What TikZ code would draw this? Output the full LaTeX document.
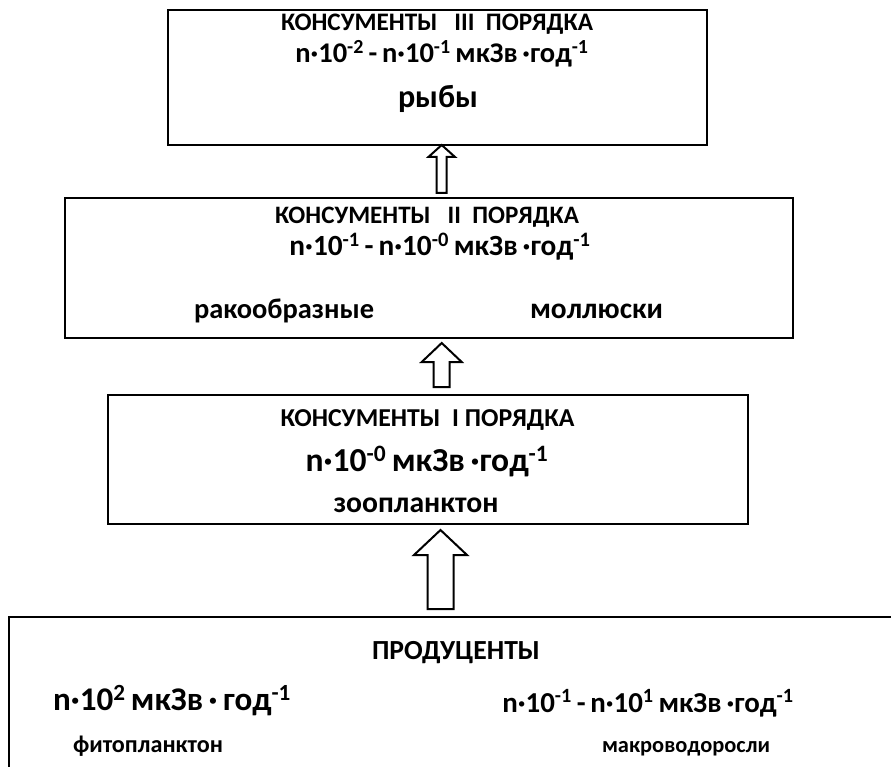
\documentclass[tikz,border=0pt]{standalone}
\usepackage{fontspec}
\setmainfont{Carlito}
\newlength\fwtmp
\newcommand{\sps}[1]{\textsuperscript{#1}}
\newcommand{\fitw}[2]{%
  \settowidth{\fwtmp}{\fontsize{10}{12}\selectfont\bfseries #2}%
  \pgfmathsetmacro\fwsize{10*#1/\fwtmp}%
  \fontsize{\fwsize}{\fwsize}\selectfont\bfseries #2}
\begin{document}
\begin{tikzpicture}[x=1pt,y=1pt,
  box/.style={draw=black,line width=2.4pt,rectangle,inner sep=0pt,fill=white},
  blockarrow/.style={draw=black,line width=2pt,fill=white,line join=miter},
  txt/.style={anchor=base,inner sep=0pt}]
\useasboundingbox (0,0) rectangle (891,-767);
\clip (0,0) rectangle (891,-767);
% boxes
\node[box,minimum width=539pt,minimum height=135pt] (b1) at (437.5,-77.5) {};
\node[box,minimum width=728pt,minimum height=140pt] (b2) at (429,-268) {};
\node[box,minimum width=640pt,minimum height=129pt] (b3) at (428,-459.5) {};
\node[box,minimum width=960pt,minimum height=250pt] (b0) at (489,-742) {};
% arrows
\coordinate (a1) at (441.7,-145);
\draw[blockarrow] (a1) -- ++(13.3,-12) -- ++(-8.3,0) -- ++(0,-36) -- ++(-10,0) -- ++(0,36) -- ++(-8.3,0) -- cycle;
\coordinate (a2) at (441.7,-343);
\draw[blockarrow] (a2) -- ++(20,-19) -- ++(-12,0) -- ++(0,-25) -- ++(-16,0) -- ++(0,25) -- ++(-12,0) -- cycle;
\coordinate (a3) at (440.5,-530);
\draw[blockarrow] (a3) -- ++(26.5,-25) -- ++(-13.5,0) -- ++(0,-54) -- ++(-26,0) -- ++(0,54) -- ++(-13.5,0) -- cycle;
% box 1 texts
\node[txt] (t1) at (437,-31) {\fitw{312}{КОНСУМЕНТЫ~~~III~~ПОРЯДКА}};
\node[txt] (f1) at (442,-63) {\fitw{296}{n·10\sps{-2}\,-\,n·10\sps{-1}\,мкЗв\,·год\sps{-1}}};
\node[txt] (o1) at (438,-108) {\fitw{80}{рыбы}};
% box 2 texts
\node[txt] (t2) at (427,-224) {\fitw{304}{КОНСУМЕНТЫ~~~II~~ПОРЯДКА}};
\node[txt] (f2) at (440,-256) {\fitw{304}{n·10\sps{-1}\,-\,n·10\sps{-0}\,мкЗв\,·год\sps{-1}}};
\node[txt] (o2a) at (284,-318) {\fitw{180}{ракообразные}};
\node[txt] (o2b) at (596.5,-318) {\fitw{133}{моллюски}};
% box 3 texts
\node[txt] (t3) at (427.5,-426) {\fitw{294}{КОНСУМЕНТЫ~~I~ПОРЯДКА}};
\node[txt] (f3) at (427,-471) {\fitw{245}{n·10\sps{-0}\,мкЗв\,·год\sps{-1}}};
\node[txt] (o3) at (416,-512) {\fitw{165}{зоопланктон}};
% bottom box
\node[txt] (t0) at (456,-659) {\fitw{168}{ПРОДУЦЕНТЫ}};
\node[txt] (f0a) at (172,-710) {\fitw{240}{n·10\sps{2}\,мкЗв\,·\,год\sps{-1}}};
\node[txt] (f0b) at (648,-712) {\fitw{294}{n·10\sps{-1}\,-\,n·10\sps{1}\,мкЗв\,·год\sps{-1}}};
\node[txt] (o0a) at (148,-752) {\fitw{150}{фитопланктон}};
\node[txt] (o0b) at (686,-752) {\fitw{168}{макроводоросли}};
\end{tikzpicture}
\end{document}
